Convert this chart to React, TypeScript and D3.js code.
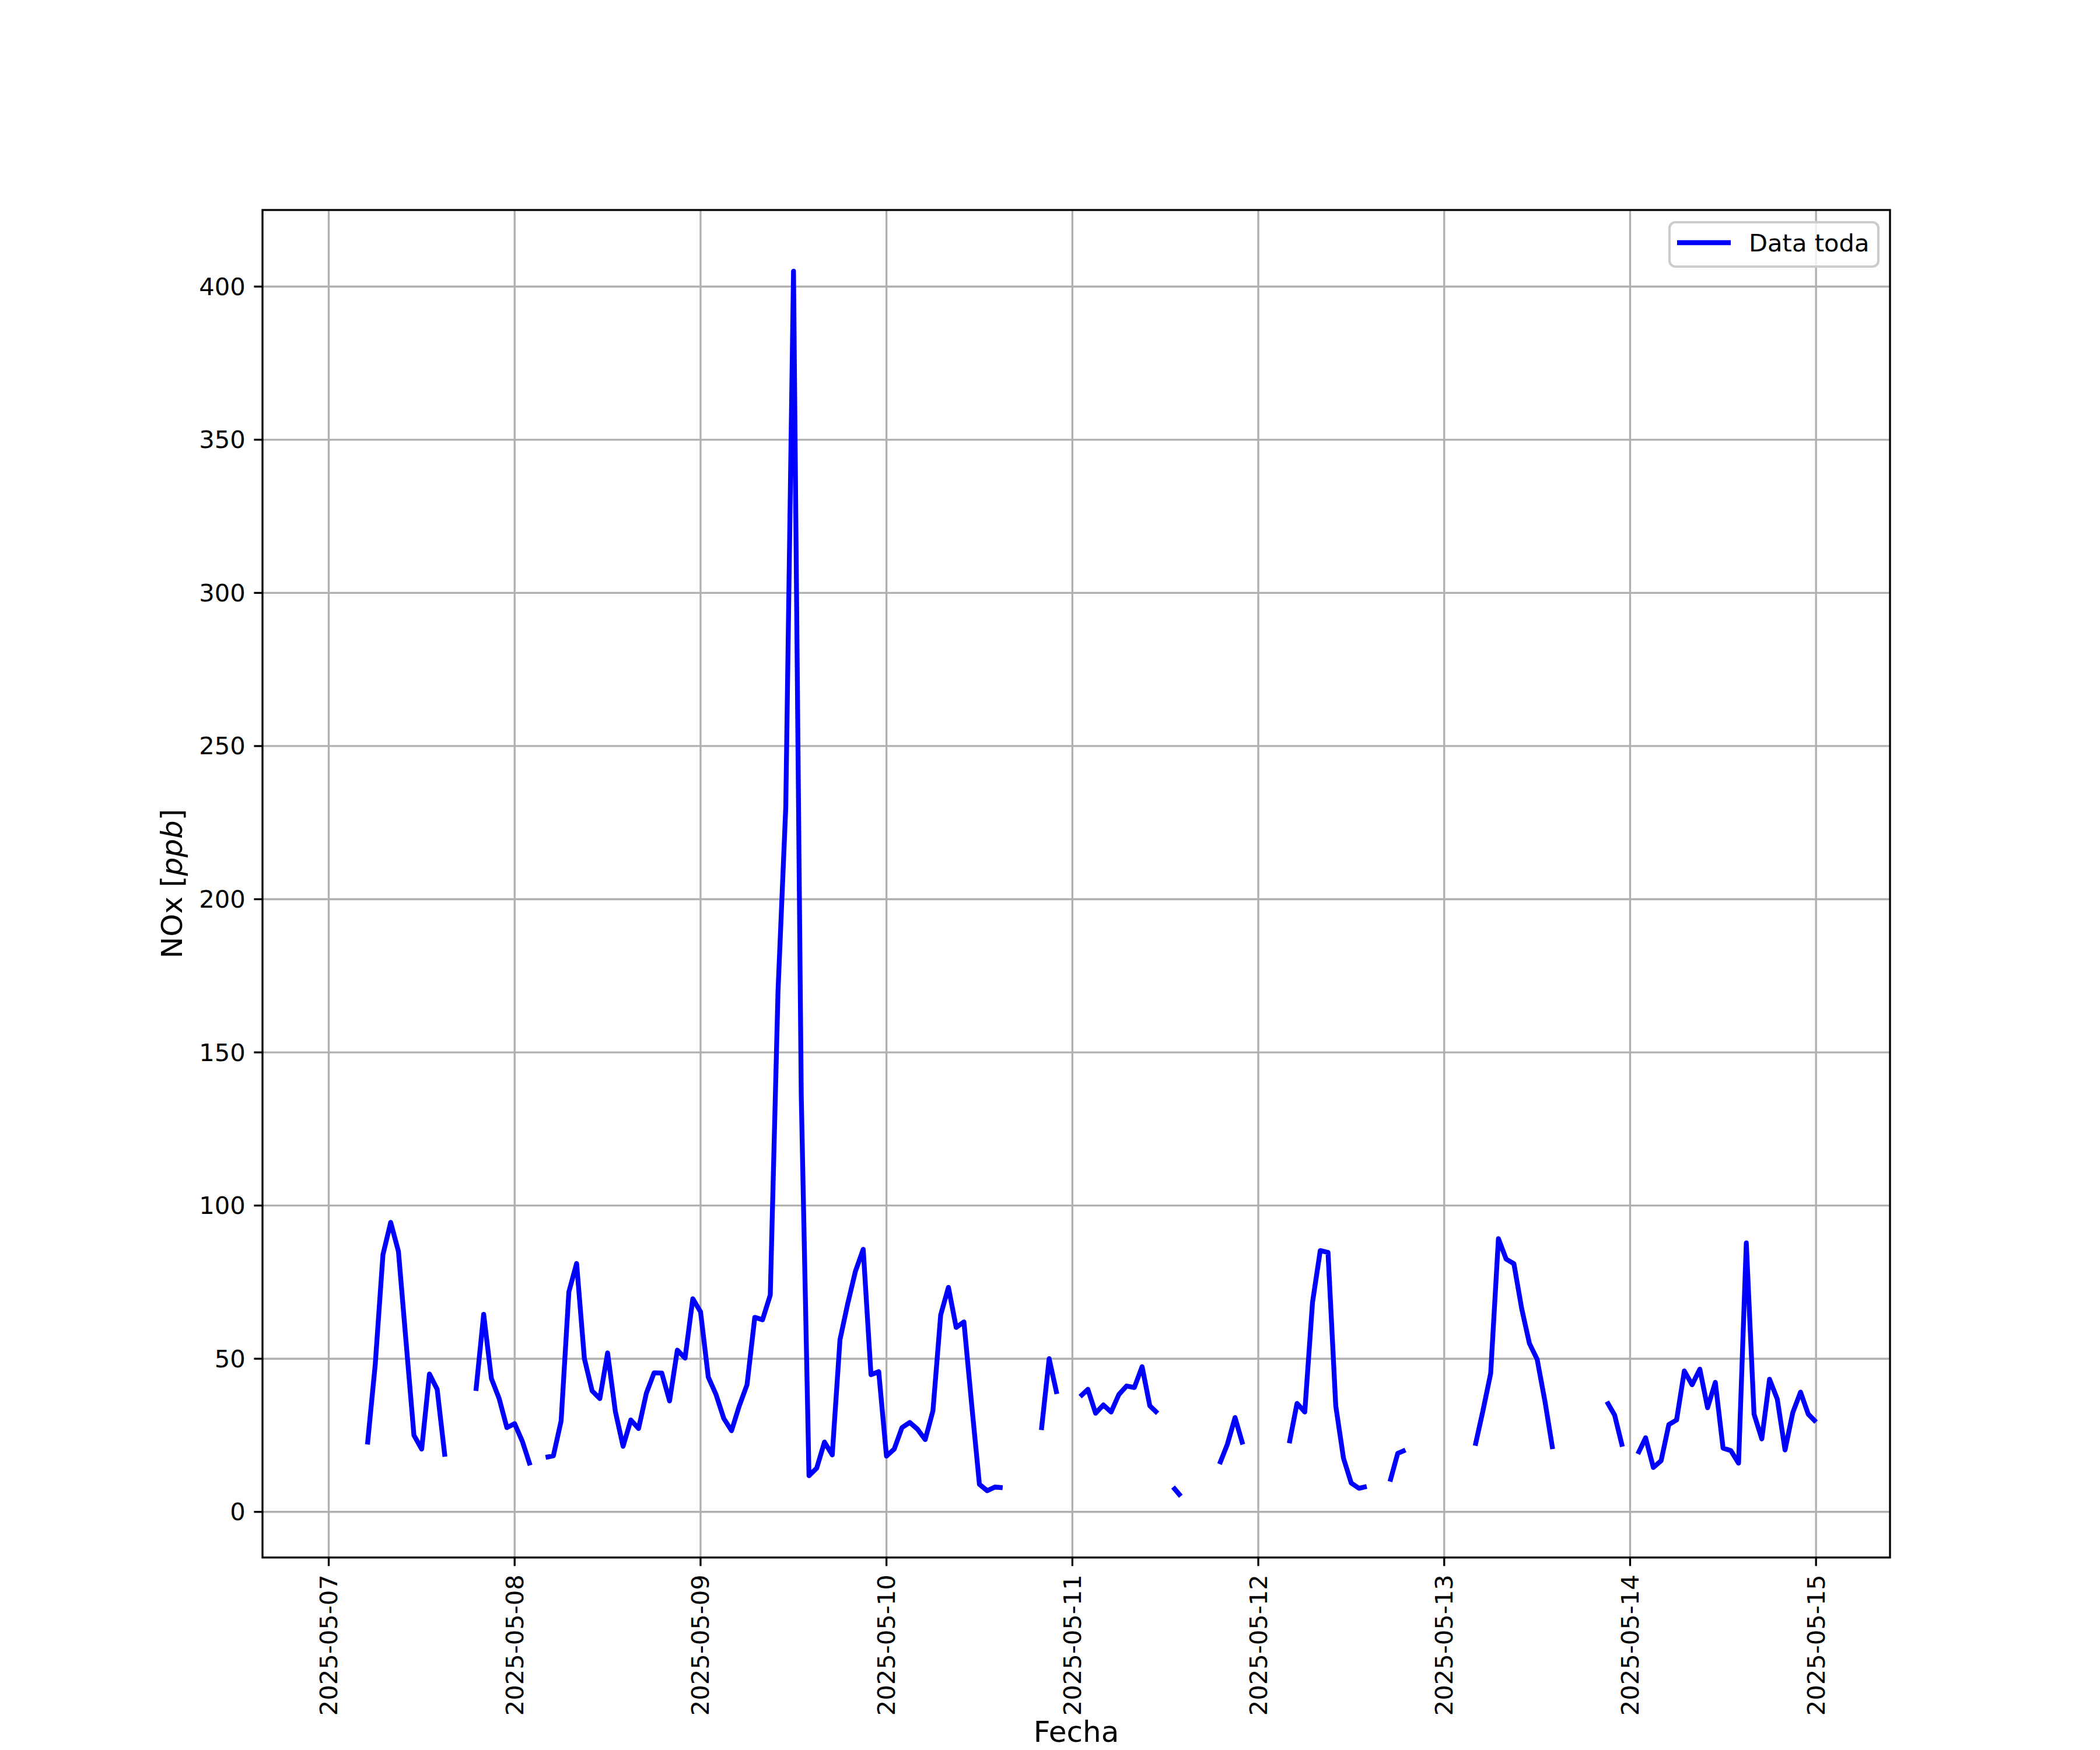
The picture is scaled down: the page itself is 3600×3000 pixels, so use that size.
import React from 'react';
import * as d3 from 'd3';

// Hourly NOx series (ppb), first timestamp 2025-05-07 01:00, null = missing
const seriesStartUtc = Date.UTC(2025, 4, 7, 1);
const may07 = [null, null, null, null, 22, 48, 84, 94.5, 85, 55, 25, 20.5, 45, 40, 18, null, null, null, 39.5, 64.5, 43.5, 37, 27.5];
const may08 = [28.8, 23, 15.2, null, 17.8, 18.3, 29.7, 71.8, 81.1, 50.1, 39.5, 37, 51.9, 32.8, 21.4, 30, 27.2, 38.7, 45.4, 45.3, 36.2, 52.8, 50.2, 69.6];
const may09 = [65.3, 44, 38.3, 30.5, 26.5, 34.6, 41.5, 63.5, 62.7, 70.8, 170, 230, 405, 136, 11.8, 14.3, 22.8, 18.6, 56.2, 68, 78.6, 85.7, 44.8, 45.8];
const may10 = [18.2, 20.5, 27.5, 29.2, 27, 23.6, 33, 64.3, 73.3, 60.2, 62, 35, 9, 6.9, 8.1, 7.9, null, null, null, null, 26.7, 50, 38.5, null];
const may11 = [null, 37.6, 40, 32.2, 34.9, 32.6, 38.3, 41.1, 40.6, 47.4, 34.6, 32.2, null, 8.1, 5.1, null, null, null, null, 15.6, 22, 30.8, 22, null];
const may12 = [null, null, null, null, 22.4, 35.4, 32.6, 68.4, 85.3, 84.7, 34.6, 17.5, 9.4, 7.7, 8.3, null, null, 9.9, 19.1, 20.2, null, null, null, null];
const may13 = [null, null, null, null, 21.6, 33, 45.2, 89.2, 82.5, 81, 66.4, 55, 49.8, 36.2, 20.5, null, null, null, null, null, null, 36, 31.6, 21.3];
const may14 = [null, 18.9, 24.2, 14.5, 16.7, 28.5, 30, 46, 41.5, 46.6, 34, 42.3, 20.8, 20, 15.9, 87.8, 31.9, 23.8, 43.3, 36.8, 20.2, 32.4, 39.1, 31.9];
const may15 = [29.3];

const yTicks = [0, 50, 100, 150, 200, 250, 300, 350, 400];
const xTickDays = ['2025-05-07', '2025-05-08', '2025-05-09', '2025-05-10', '2025-05-11', '2025-05-12', '2025-05-13', '2025-05-14', '2025-05-15'];
const legendLabel = 'Data toda';
const xLabel = 'Fecha';

type Pt = { t: Date; v: number | null };

export default function App() {
  const W = 3600, H = 3000;
  const L = 450, R = 3240, T = 360, B = 2670;
  const fs = 41.67;
  const lfs = 50;
  const lw = 3.33;
  const tickLen = 14.6;
  const pad = 14.6;

  const values: (number | null)[] = [...may07, ...may08, ...may09, ...may10, ...may11, ...may12, ...may13, ...may14, ...may15];
  const data: Pt[] = values.map((v, i) => ({ t: new Date(seriesStartUtc + i * 3600000), v }));

  const tExt = d3.extent(data, d => d.t.getTime()) as [number, number];
  const tPad = (tExt[1] - tExt[0]) * 0.05;
  const x = d3.scaleUtc().domain([new Date(tExt[0] - tPad), new Date(tExt[1] + tPad)]).range([L, R]);

  const vals = values.filter(v => v != null) as number[];
  const vMin = d3.min(vals)!, vMax = d3.max(vals)!;
  const vPad = (vMax - vMin) * 0.05;
  const y = d3.scaleLinear().domain([vMin - vPad, vMax + vPad]).range([B, T]);

  const line = d3.line<Pt>()
    .defined(d => d.v != null)
    .x(d => x(d.t))
    .y(d => y(d.v as number));

  const xTicks = xTickDays.map(s => {
    const [yy, mm, dd] = s.split('-').map(Number);
    return { label: s, t: new Date(Date.UTC(yy, mm - 1, dd)) };
  });

  const font = 'DejaVu Sans';

  return (
    <svg width={W} height={H} viewBox={`0 0 ${W} ${H}`} style={{ position: 'absolute', left: 0, top: 0, background: '#fff' }} fontFamily={font}>
      <rect x={0} y={0} width={W} height={H} fill="#fff" />
      <defs>
        <clipPath id="plotclip">
          <rect x={L} y={T} width={R - L} height={B - T} />
        </clipPath>
      </defs>
      {/* grid */}
      <g stroke="#b0b0b0" strokeWidth={lw}>
        {xTicks.map(tk => (
          <line key={'gx' + tk.label} x1={x(tk.t)} x2={x(tk.t)} y1={T} y2={B} />
        ))}
        {yTicks.map(v => (
          <line key={'gy' + v} x1={L} x2={R} y1={y(v)} y2={y(v)} />
        ))}
      </g>
      {/* data line */}
      <path d={line(data) || ''} fill="none" stroke="#0000ff" strokeWidth={8.3} strokeLinejoin="round" strokeLinecap="butt" clipPath="url(#plotclip)" />
      {/* spines */}
      <rect x={L} y={T} width={R - L} height={B - T} fill="none" stroke="#000" strokeWidth={lw} />
      {/* y ticks */}
      {yTicks.map(v => (
        <g key={'yt' + v}>
          <line x1={L - tickLen} x2={L} y1={y(v)} y2={y(v)} stroke="#000" strokeWidth={lw} />
          <text x={L - tickLen - pad} y={y(v)} textAnchor="end" dominantBaseline="central" fontSize={fs} fill="#000">{v}</text>
        </g>
      ))}
      {/* x ticks */}
      {xTicks.map(tk => (
        <g key={'xt' + tk.label}>
          <line x1={x(tk.t)} x2={x(tk.t)} y1={B} y2={B + tickLen} stroke="#000" strokeWidth={lw} />
          <text transform={`translate(${x(tk.t)},${B + tickLen + pad}) rotate(-90)`} textAnchor="end" dominantBaseline="central" fontSize={fs} fill="#000">{tk.label}</text>
        </g>
      ))}
      {/* axis labels */}
      <text x={(L + R) / 2} y={2986} textAnchor="middle" fontSize={lfs} fill="#000">{xLabel}</text>
      <text transform={`translate(312,${(T + B) / 2}) rotate(-90)`} textAnchor="middle" fontSize={lfs} fill="#000">
        NOx [<tspan fontStyle="italic">ppb</tspan>]
      </text>
      {/* legend */}
      <g>
        <rect x={2862} y={381} width={358} height={76} rx={10} ry={10} fill="#fff" fillOpacity={0.8} stroke="#cccccc" strokeWidth={4.17} />
        <line x1={2875} x2={2967} y1={416} y2={416} stroke="#0000ff" strokeWidth={8.3} />
        <text x={2998} y={431} fontSize={fs} fill="#000">{legendLabel}</text>
      </g>
    </svg>
  );
}
